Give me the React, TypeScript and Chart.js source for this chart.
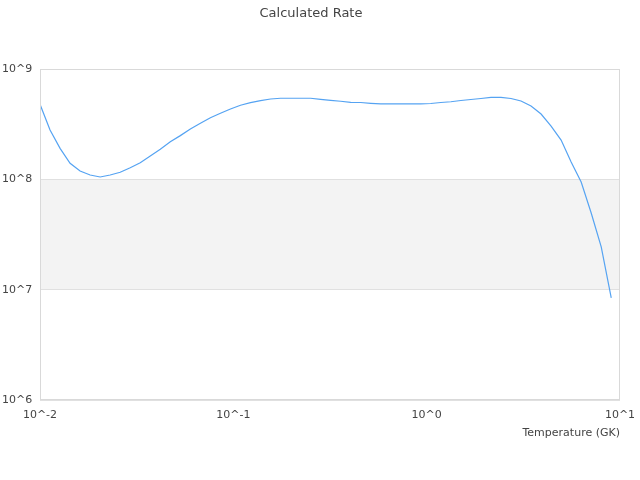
import React, { useEffect, useRef } from 'react';
import { Chart, registerables, ChartConfiguration } from 'chart.js';

Chart.register(...registerables);

// temperature grid (GK), log spaced from 0.01 to 9
const temperatures = [
  0.01, 0.01127, 0.0127, 0.01431, 0.01612, 0.01817, 0.02047, 0.02306, 0.02599,
  0.02929, 0.033, 0.03718, 0.0419, 0.04721, 0.0532, 0.05994, 0.06755, 0.07611,
  0.08576, 0.09664, 0.1089, 0.1227, 0.1383, 0.1558, 0.1755, 0.1976, 0.2227,
  0.2509, 0.2827, 0.3186, 0.359, 0.4045, 0.4558, 0.5136, 0.5787, 0.6521,
  0.7348, 0.8279, 0.9329, 1.05, 1.184, 1.334, 1.503, 1.693, 1.908, 2.15, 2.423,
  2.73, 3.076, 3.466, 3.906, 4.401, 4.959, 5.588, 6.297, 7.096, 7.996, 9.01,
];

// calculated rate
const rates = [
  4.79e8, 2.8e8, 1.91e8, 1.4e8, 1.19e8, 1.094e8, 1.05e8, 1.094e8, 1.158e8,
  1.274e8, 1.415e8, 1.627e8, 1.872e8, 2.19e8, 2.49e8, 2.86e8, 3.22e8, 3.62e8,
  3.97e8, 4.34e8, 4.69e8, 4.95e8, 5.16e8, 5.35e8, 5.43e8, 5.43e8, 5.43e8,
  5.43e8, 5.31e8, 5.2e8, 5.1e8, 4.99e8, 4.97e8, 4.89e8, 4.82e8, 4.82e8, 4.82e8,
  4.82e8, 4.82e8, 4.87e8, 4.97e8, 5.05e8, 5.18e8, 5.29e8, 5.4e8, 5.52e8,
  5.52e8, 5.4e8, 5.13e8, 4.62e8, 3.91e8, 3.04e8, 2.27e8, 1.436e8, 9.46e7,
  4.95e7, 2.44e7, 8.41e6,
];

const xTicks = [0.01, 0.1, 1, 10];
const yTicks = [1e6, 1e7, 1e8, 1e9];

const textColor = '#444444';
const font = 'DejaVu Sans';

const expLabel = (v: number) => '10^' + Math.round(Math.log10(v));

// grey band between 10^7 and 10^8, plus a frame round the plot area
const bandPlugin = {
  id: 'band',
  beforeDraw(chart: any) {
    const { ctx, chartArea, scales } = chart;
    const yTop = scales.y.getPixelForValue(1e8);
    const yBot = scales.y.getPixelForValue(1e7);
    ctx.save();
    ctx.fillStyle = '#f3f3f3';
    ctx.fillRect(chartArea.left, yTop, chartArea.right - chartArea.left, yBot - yTop);
    ctx.restore();
  },
  afterDatasetsDraw(chart: any) {
    const { ctx, chartArea } = chart;
    ctx.save();
    ctx.strokeStyle = '#d9d9d9';
    ctx.lineWidth = 1;
    ctx.strokeRect(
      Math.round(chartArea.left) + 0.5,
      Math.round(chartArea.top) + 0.5,
      Math.round(chartArea.right - chartArea.left) - 1,
      Math.round(chartArea.bottom - chartArea.top) - 1
    );
    ctx.restore();
  },
};

const App: React.FC = () => {
  const canvasRef = useRef<HTMLCanvasElement>(null);

  useEffect(() => {
    if (!canvasRef.current) return;

    const config: ChartConfiguration = {
      type: 'line',
      data: {
        datasets: [
          {
            label: 'Rate',
            data: temperatures.map((t, i) => ({ x: t, y: rates[i] })),
            borderColor: '#55a3f2',
            borderWidth: 1.2,
            pointRadius: 0,
            tension: 0,
            fill: false,
          },
        ],
      },
      options: {
        animation: false,
        responsive: false,
        devicePixelRatio: 1,
        layout: { padding: { left: 2, right: 20, top: 0, bottom: 40 } },
        plugins: {
          legend: { display: false },
          tooltip: { enabled: false },
          title: {
            display: true,
            text: 'Calculated Rate',
            color: textColor,
            font: { family: font, size: 13, weight: 'normal' },
            padding: { top: 6, bottom: 47.4 },
          },
        },
        scales: {
          x: {
            type: 'logarithmic',
            min: 0.01,
            max: 10,
            afterBuildTicks: (scale: any) => {
              scale.ticks = xTicks.map((v) => ({ value: v }));
            },
            afterFit: (scale: any) => {
              scale.height = 40;
              scale.paddingLeft = 0;
              scale.paddingRight = 0;
            },
            grid: { display: false, drawTicks: false },
            border: { display: false },
            ticks: {
              color: textColor,
              font: { family: font, size: 11 },
              padding: 9,
              maxRotation: 0,
              autoSkip: false,
              callback: (v: any) => expLabel(Number(v)),
            },
            title: {
              display: true,
              text: 'Temperature (GK)',
              align: 'end',
              color: textColor,
              font: { family: font, size: 11 },
              padding: { top: 4, bottom: 0 },
            },
          },
          y: {
            type: 'logarithmic',
            min: 1e6,
            max: 1e9,
            afterBuildTicks: (scale: any) => {
              scale.ticks = yTicks.map((v) => ({ value: v }));
            },
            afterFit: (scale: any) => {
              scale.width = 38;
            },
            grid: { color: '#e0e0e0', drawTicks: false },
            border: { display: false },
            ticks: {
              color: textColor,
              font: { family: font, size: 11 },
              crossAlign: 'far',
              autoSkip: false,
              callback: (v: any) => expLabel(Number(v)),
            },
          },
        },
      },
      plugins: [bandPlugin],
    };

    const chart = new Chart(canvasRef.current, config);
    return () => chart.destroy();
  }, []);

  return (
    <div style={{ position: 'absolute', left: 0, top: 0, width: 640, height: 480 }}>
      <canvas ref={canvasRef} width={640} height={480} />
    </div>
  );
};

export default App;
